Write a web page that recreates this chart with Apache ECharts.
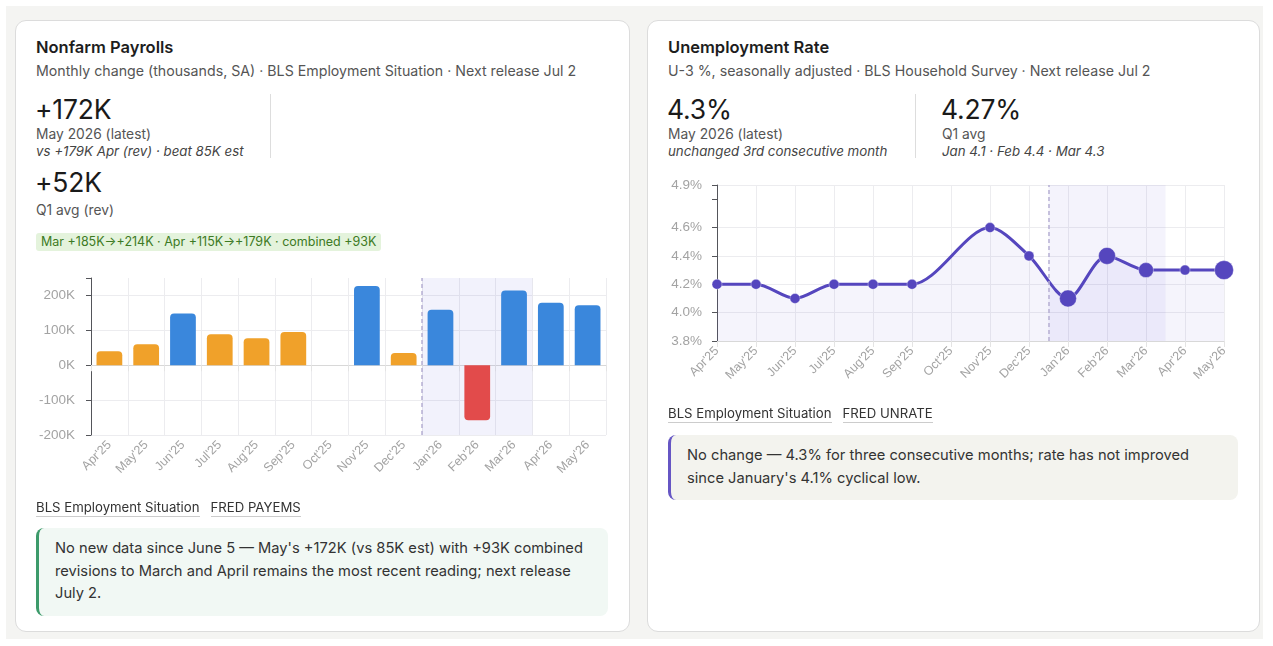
<!DOCTYPE html>
<html>
<head>
<meta charset="utf-8">
<script src="https://cdn.jsdelivr.net/npm/echarts@6/dist/echarts.min.js"></script>
<style>
  html, body { margin: 0; padding: 0; background: #fff; }
  body { width: 1273px; height: 646px; position: relative; overflow: hidden; font-family: Inter, "Noto Sans", sans-serif; color: #222; }
  .panel { position: absolute; left: 6px; top: 6px; width: 1257px; height: 633px; background: #f4f4f2; }
  .card { position: absolute; top: 20px; height: 612px; background: #fff; border: 1px solid #dcdcdc; border-radius: 11px; box-sizing: border-box; }
  .abs { position: absolute; white-space: nowrap; line-height: 1.2; }
  .title { font-size: 16.5px; font-weight: 600; color: #1d1d1d; }
  .sub { font-size: 14.2px; color: #555; }
  .big { font-size: 26.5px; color: #1a1a1a; letter-spacing: -0.2px; }
  .lbl { font-size: 13.8px; color: #555; }
  .it { font-size: 13.3px; color: #444; font-style: italic; }
  .divider { position: absolute; width: 1px; background: #ddd; }
  .chip { position: absolute; font-size: 12.5px; line-height: 16px; color: #3d7a24; background: #e4f3dc; border-radius: 3px; padding: 1px 5px; white-space: nowrap; }
  .links { font-size: 13.2px; color: #333; }
  .links span { border-bottom: 1px solid #ccc; margin-right: 11px; padding-bottom: 1px; }
  .note { position: absolute; font-size: 14.7px; line-height: 22.5px; color: #333; border-radius: 8px; box-sizing: border-box; padding: 9px 16px 7px; }
  .chart { position: absolute; }
</style>
</head>
<body>
<div class="panel"></div>
<div class="card" style="left:15px;width:615px;"></div>
<div class="card" style="left:647px;width:613px;"></div>

<!-- left card text -->
<div class="abs title" style="left:36px;top:38px;">Nonfarm Payrolls</div>
<div class="abs sub" style="left:36px;top:62px;">Monthly change (thousands, SA) · BLS Employment Situation · Next release Jul 2</div>
<div class="abs big" style="left:35px;top:94px;">+172K</div>
<div class="abs lbl" style="left:36px;top:126px;">May 2026 (latest)</div>
<div class="abs it" style="left:36px;top:144px;">vs +179K Apr (rev) · beat 85K est</div>
<div class="divider" style="left:270px;top:94px;height:64px;"></div>
<div class="abs big" style="left:35px;top:167px;">+52K</div>
<div class="abs lbl" style="left:36px;top:202px;">Q1 avg (rev)</div>
<div class="chip" style="left:36px;top:233px;">Mar +185K→+214K · Apr +115K→+179K · combined +93K</div>
<div id="bars" class="chart" style="left:20px;top:268px;width:600px;height:232px;"></div>
<div class="abs links" style="left:36px;top:500px;"><span>BLS Employment Situation</span><span>FRED PAYEMS</span></div>
<div class="note" style="left:36px;top:528px;width:572px;height:88px;background:#f1f8f4;border-left:3px solid #3c9a6a;">No new data since June 5 — May's +172K (vs 85K est) with +93K combined revisions to March and April remains the most recent reading; next release July 2.</div>

<!-- right card text -->
<div class="abs title" style="left:668px;top:38px;">Unemployment Rate</div>
<div class="abs sub" style="left:668px;top:62px;">U-3 %, seasonally adjusted · BLS Household Survey · Next release Jul 2</div>
<div class="abs big" style="left:667px;top:94px;">4.3%</div>
<div class="abs lbl" style="left:668px;top:126px;">May 2026 (latest)</div>
<div class="abs it" style="left:668px;top:144px;">unchanged 3rd consecutive month</div>
<div class="divider" style="left:915px;top:94px;height:64px;"></div>
<div class="abs big" style="left:941px;top:94px;">4.27%</div>
<div class="abs lbl" style="left:942px;top:126px;">Q1 avg</div>
<div class="abs it" style="left:942px;top:144px;">Jan 4.1 · Feb 4.4 · Mar 4.3</div>
<div id="rate" class="chart" style="left:650px;top:175px;width:600px;height:235px;"></div>
<div class="abs links" style="left:668px;top:406px;"><span>BLS Employment Situation</span><span>FRED UNRATE</span></div>
<div class="note" style="left:668px;top:435px;width:570px;height:65px;background:#f3f3ee;border-left:3px solid #6656c4;">No change — 4.3% for three consecutive months; rate has not improved since January's 4.1% cyclical low.</div>

<script>
const months = ["Apr'25", "May'25", "Jun'25", "Jul'25", "Aug'25", "Sep'25", "Oct'25", "Nov'25", "Dec'25", "Jan'26", "Feb'26", "Mar'26", "Apr'26", "May'26"];
// payroll change, thousands (Oct'25 not published)
const payrolls = [40, 60, 148, 89, 77, 95, null, 227, 35, 159, -158, 214, 179, 172];
// U-3 unemployment rate, %
const unrate = [4.2, 4.2, 4.1, 4.2, 4.2, 4.2, null, 4.6, 4.4, 4.1, 4.4, 4.3, 4.3, 4.3];
const payrollTicks = ["-200K", "-100K", "0K", "100K", "200K"];
const rateTicks = ["3.8%", "4.0%", "4.2%", "4.4%", "4.6%", "4.9%"];

const GRID_C = "#ececef";
const LABEL_C = "#a3a3a3";
const PURPLE = "#5546be";
// highlighted months get larger markers (index -> size)
const bigDots = { 9: 17, 10: 17, 11: 15, 13: 19 };

function barColor(v) {
  if (v < 0) return "#e24b4b";
  if (v >= 100) return "#3a87dc";
  return "#f0a12a";
}

const xLabel = { rotate: 45, color: LABEL_C, fontSize: 12.5, interval: 0, margin: 8 };

const barChart = echarts.init(document.getElementById("bars"), null, { renderer: "canvas" });
barChart.setOption({
  animation: false,
  grid: { left: 71, right: 14, top: 10, bottom: 65 },
  xAxis: [
    {
      type: "category",
      data: months,
      axisLine: { lineStyle: { color: "#d8d8d8" } },
      axisTick: { show: true, length: 6, lineStyle: { color: "#e4e4e4" } },
      splitLine: { show: true, lineStyle: { color: GRID_C } },
      axisLabel: xLabel,
    },
    { type: "value", min: 0, max: months.length, show: false },
  ],
  yAxis: {
    type: "value",
    min: -200,
    max: 250,
    interval: 100,
    axisLabel: {
      color: LABEL_C,
      fontSize: 13.5,
      margin: 16,
      formatter: (v) => (payrollTicks.includes(v + "K") ? v + "K" : ""),
    },
    splitLine: { lineStyle: { color: [GRID_C, GRID_C, GRID_C, GRID_C, GRID_C, "transparent"] } },
  },
  series: [
    {
      type: "line",
      xAxisIndex: 1,
      data: [],
      z: 1,
      markArea: {
        silent: true,
        itemStyle: { color: "rgba(95,85,215,0.08)" },
        data: [[{ xAxis: 9 }, { xAxis: 12 }]],
      },
      markLine: {
        silent: true,
        symbol: "none",
        label: { show: false },
        lineStyle: { color: "#b7b0d4", type: [4, 3], width: 1.5 },
        data: [{ xAxis: 9 }],
      },
    },
    {
      type: "bar",
      z: 3,
      barWidth: "70%",
      data: payrolls.map((v) =>
        v == null
          ? null
          : {
              value: v,
              itemStyle: {
                color: barColor(v),
                borderRadius: v < 0 ? [0, 0, 4, 4] : [4, 4, 0, 0],
              },
            }
      ),
    },
  ],
});

const rateChart = echarts.init(document.getElementById("rate"), null, { renderer: "canvas" });
rateChart.setOption({
  animation: false,
  grid: { left: 67, right: 26, top: 10, bottom: 69 },
  xAxis: [
    {
      type: "category",
      data: months,
      boundaryGap: false,
      axisLine: { lineStyle: { color: "#d8d8d8" } },
      axisTick: { show: true, length: 6, lineStyle: { color: "#e4e4e4" } },
      splitLine: { show: true, lineStyle: { color: GRID_C } },
      axisLabel: xLabel,
    },
    { type: "value", min: 0, max: months.length - 1, show: false },
  ],
  yAxis: {
    type: "value",
    min: 3.8,
    max: 4.9,
    interval: 0.2,
    axisLabel: {
      color: LABEL_C,
      fontSize: 13.5,
      margin: 15,
      formatter: (v) => {
        const s = v.toFixed(1) + "%";
        return rateTicks.includes(s) ? s : "";
      },
    },
    splitLine: { lineStyle: { color: [GRID_C, GRID_C, GRID_C, GRID_C, GRID_C, "transparent", GRID_C] } },
  },
  series: [
    {
      type: "line",
      xAxisIndex: 1,
      data: [],
      z: 1,
      markArea: {
        silent: true,
        itemStyle: { color: "rgba(95,85,215,0.07)" },
        data: [[{ xAxis: 8.5 }, { xAxis: 11.5 }]],
      },
      markLine: {
        silent: true,
        symbol: "none",
        label: { show: false },
        lineStyle: { color: "#b7b0d4", type: [4, 3], width: 1.5 },
        data: [{ xAxis: 8.5 }],
      },
    },
    {
      type: "line",
      z: 3,
      data: unrate,
      connectNulls: true,
      smooth: 0.3,
      symbol: "circle",
      symbolSize: (v, p) => bigDots[p.dataIndex] || 10,
      itemStyle: { color: PURPLE, borderColor: "rgba(255,255,255,0.35)", borderWidth: 1 },
      lineStyle: { color: PURPLE, width: 3 },
      areaStyle: { color: "rgba(95,85,215,0.09)", origin: "start" },
    },
  ],
});
</script>
</body>
</html>
